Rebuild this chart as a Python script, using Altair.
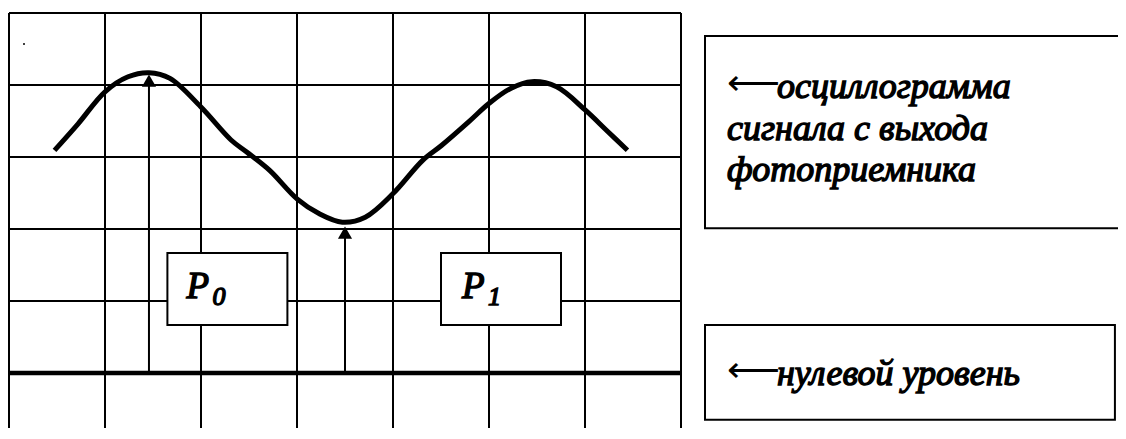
import altair as alt
import pandas as pd

# ---- data (grid units: x = columns, y = divisions above zero level) ----
grid_cols = [0, 1, 2, 3, 4, 5, 6, 7]
grid_rows = [1, 2, 3, 4, 5]
zero_level = [0]

curve_x = [0.474, 0.722, 1.000, 1.240, 1.458, 1.677, 1.997, 2.313, 2.476, 2.715, 3.000,
           3.233, 3.472, 3.711, 3.998, 4.309, 4.508, 4.788, 4.999, 5.226, 5.446, 5.704,
           6.004, 6.223, 6.442]
curve_y = [3.093, 3.465, 3.906, 4.115, 4.171, 4.092, 3.697, 3.236, 3.069, 2.814, 2.419,
           2.211, 2.094, 2.164, 2.489, 2.954, 3.163, 3.488, 3.743, 3.953, 4.046, 3.975,
           3.650, 3.372, 3.093]

arrow_x = [1.458, 3.50]
arrow_head = [4.06, 1.95]

box_x = [1.65, 4.50, 7.25, 7.25]
box_x2 = [2.90, 5.75, 12.0, 11.52]
box_y = [0.667, 0.667, 4.68, 0.667]
box_y2 = [1.667, 1.667, 2.01, -0.65]

p_labels = ["P", "P"]
p_x = [1.85, 4.72]
p_y = [1.04, 1.04]
sub_labels = ["0", "1"]
sub_x = [2.12, 4.99]
sub_y = [0.945, 0.945]

note_lines = ["осциллограмма", "сигнала с выхода", "фотоприемника", "нулевой уровень"]
note_x = [8.0, 7.48, 7.48, 8.0]
note_y = [3.82, 3.236, 2.667, -0.167]

pointer_labels = ["⟵", "⟵"]
pointer_x = [7.48, 7.48]
pointer_y = [3.86, -0.13]

dot_x = [0.156]
dot_y = [4.57]

SERIF = "Liberation Serif"

# ---- scales ----
XD = [(8 - 9) / 96, (1118 - 9) / 96]
YD = [(373 - 428) / 72, (373 - 8) / 72]
xs = alt.Scale(domain=XD, nice=False, zero=False)
ys = alt.Scale(domain=YD, nice=False, zero=False)


def X(f):
    return alt.X(f, type="quantitative", scale=xs, axis=None)


def Y(f):
    return alt.Y(f, type="quantitative", scale=ys, axis=None)


vgrid = alt.Chart(pd.DataFrame({"x": grid_cols, "y": -1, "y2": 5})).mark_rule(
    color="black", strokeWidth=2, clip=True
).encode(x=X("x"), y=Y("y"), y2="y2")

hgrid = alt.Chart(pd.DataFrame({"y": grid_rows, "x": 0, "x2": 7})).mark_rule(
    color="black", strokeWidth=2
).encode(y=Y("y"), x=X("x"), x2="x2")

zero = alt.Chart(pd.DataFrame({"y": zero_level, "x": 0, "x2": 7})).mark_rule(
    color="black", strokeWidth=4.5
).encode(y=Y("y"), x=X("x"), x2="x2")

curve = alt.Chart(pd.DataFrame({"x": curve_x, "y": curve_y})).mark_line(
    color="black", strokeWidth=5, interpolate="catmull-rom"
).encode(x=X("x"), y=Y("y"), order="x:Q")

arrows = alt.Chart(pd.DataFrame({"x": arrow_x, "y": 0, "y2": arrow_head})).mark_rule(
    color="black", strokeWidth=2
).encode(x=X("x"), y=Y("y"), y2="y2")

heads = alt.Chart(pd.DataFrame({"x": arrow_x, "y": arrow_head})).mark_point(
    shape="triangle-up", filled=True, color="black", size=200, opacity=1
).encode(x=X("x"), y=Y("y"))

boxes = alt.Chart(pd.DataFrame({"x": box_x, "x2": box_x2, "y": box_y, "y2": box_y2})).mark_rect(
    fill="white", stroke="black", strokeWidth=2, clip=True
).encode(x=X("x"), x2="x2", y=Y("y"), y2="y2")

bold_italic = dict(font=SERIF, fontStyle="italic", align="left", baseline="alphabetic",
                   color="black", stroke="black", strokeWidth=1.4)

ptext = alt.Chart(pd.DataFrame({"x": p_x, "y": p_y, "t": p_labels})).mark_text(
    fontSize=37, **bold_italic
).encode(x=X("x"), y=Y("y"), text="t")

stext = alt.Chart(pd.DataFrame({"x": sub_x, "y": sub_y, "t": sub_labels})).mark_text(
    fontSize=26, **bold_italic
).encode(x=X("x"), y=Y("y"), text="t")

notes = alt.Chart(pd.DataFrame({"x": note_x, "y": note_y, "t": note_lines})).mark_text(
    fontSize=36, **bold_italic
).encode(x=X("x"), y=Y("y"), text="t")

pointers = alt.Chart(pd.DataFrame({"x": pointer_x, "y": pointer_y, "t": pointer_labels})).mark_text(
    fontSize=37, align="left", baseline="alphabetic", color="black"
).encode(x=X("x"), y=Y("y"), text="t")

dot = alt.Chart(pd.DataFrame({"x": dot_x, "y": dot_y})).mark_point(
    filled=True, color="black", size=4, opacity=1
).encode(x=X("x"), y=Y("y"))

chart = alt.layer(
    vgrid, hgrid, zero, curve, arrows, heads, boxes, ptext, stext, notes, pointers, dot
).properties(
    width=1110, height=420, padding=0, autosize=alt.AutoSizeParams(type="none"),
    background="white"
).configure_view(stroke=None)

chart.save("out.html", embed_options={"renderer": "svg", "actions": False})
